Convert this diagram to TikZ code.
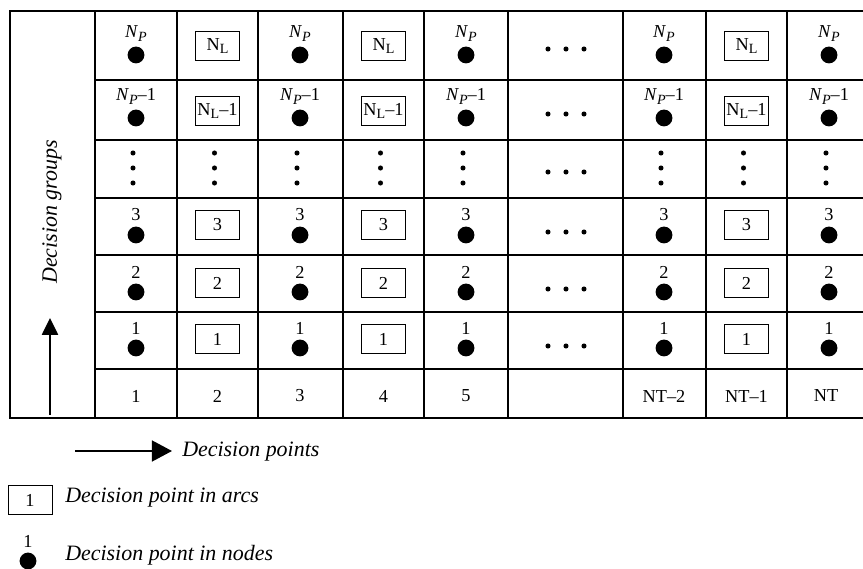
\documentclass[tikz,border=0pt]{standalone}
\usepackage{fontspec}
\setmainfont{Liberation Serif}
\usetikzlibrary{arrows.meta, positioning}

\newcommand{\cellfont}{\fontsize{13}{15}\selectfont}
\newcommand{\keyfont}{\fontsize{15.6}{18}\selectfont}
\newcommand{\subfont}{\fontsize{10}{10}\selectfont}
\newcommand{\np}{\textit{N}\raisebox{-0.45ex}{\subfont\textit{P}}}
\newcommand{\nl}{N\raisebox{-0.45ex}{\subfont L}}

\begin{document}
\begin{tikzpicture}[
        x=0.025cm, y=-0.025cm,
        rule/.style={line width=0.9pt},
        pnt/.style={circle, fill=black, inner sep=0pt, minimum size=4.2mm},
        arcbox/.style={draw, line width=0.7pt, minimum width=10.8mm, minimum height=7.4mm, inner sep=1pt, font=\cellfont},
        lab/.style={font=\cellfont, inner sep=1pt, label distance=2.5pt},
        txt/.style={font=\keyfont\itshape, anchor=west, inner sep=0pt},
        up/.style={-{Triangle[length=4.2mm, width=4mm]}, line width=1.4pt},
        right/.style={-{Triangle[length=5mm, width=5.2mm]}, line width=1.4pt}
    ]
        \useasboundingbox (0,0) rectangle (863,569);

        % table frame and cells
        \draw[rule] (863,11) -- (10,11) -- (10,418) -- (863,418);
        \foreach \x in {95,177,258,343,424,508,623,706,787}
            \draw[rule] (\x,11) -- (\x,418);
        \foreach \y in {80,140,198,255,312,369}
            \draw[rule] (95,\y) -- (863,\y);

        % decision groups axis
        \coordinate (gtail) at (50,415);
        \coordinate (ghead) at (50,318);
        \draw[up] (gtail) -- (ghead);
        \node[rotate=90, font=\keyfont\itshape] (groups) at (52,212) {Decision groups};

        % decision points in nodes
        \foreach \c/\x in {1/136,3/300,5/466,7/664,9/829} {
            \foreach \r/\y/\t in {6/55/\np, 5/118/{\np\textendash1}, 3/235/3, 2/292/2, 1/348/1}
                \node[pnt, label={[lab]above:\t}] (p\c-\r) at (\x,\y) {};
            \foreach \y in {153,168,183}
                \fill (\x-3,\y) circle (1.8pt);
        }

        % decision points in arcs
        \foreach \c/\x in {2/217.5,4/383.5,8/746.5} {
            \foreach \r/\y/\t in {6/46/\nl, 5/111/{\nl\textendash1}, 3/225/3, 2/283/2, 1/339/1}
                \node[arcbox] (a\c-\r) at (\x,\y) {\t};
            \foreach \y in {153,168,183}
                \fill (\x-3,\y) circle (1.8pt);
        }

        % skipped columns
        \foreach \y in {49,114,172,232,289,346}
            \foreach \x in {548,566,584}
                \fill (\x,\y) circle (1.8pt);

        % point numbers
        \foreach \c/\x/\t in {1/136/1, 2/217.5/2, 3/300/3, 4/383.5/4, 5/466/5,
                7/664/{NT\textendash2}, 8/746.5/{NT\textendash1}, 9/826/NT}
            \node[font=\cellfont] (n\c) at (\x,396) {\t};

        % legend
        \coordinate (ptail) at (75,451);
        \coordinate (phead) at (172,451);
        \draw[right] (ptail) -- (phead);
        \node[txt] (points) at (182,452) {Decision points};

        \node[arcbox, minimum width=11mm] (keyarc) at (30,500) {1};
        \node[txt] (keyarctext) at (65,498) {Decision point in arcs};

        \node[pnt, label={[lab]above:1}] (keypnt) at (28,561) {};
        \node[txt] (keypnttext) at (65,555) {Decision point in nodes};
    \end{tikzpicture}
\end{document}
